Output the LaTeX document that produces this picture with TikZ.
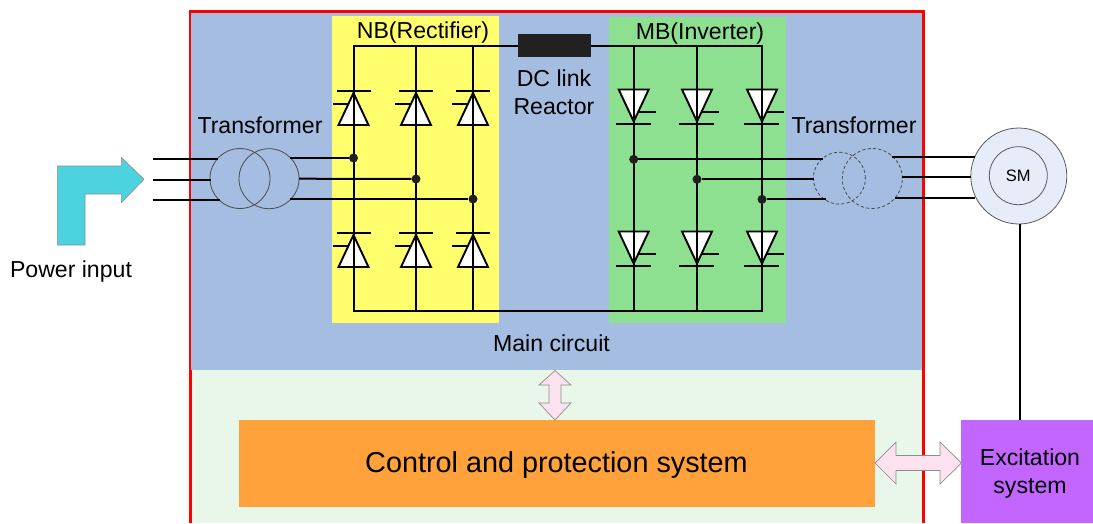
\documentclass[tikz,border=0pt]{standalone}
\usepackage{fontspec}
\setmainfont{Liberation Sans}
\definecolor{mainblue}{HTML}{A4BDE0}
\definecolor{ctrlgreen}{HTML}{E9F7EA}
\definecolor{nbyellow}{HTML}{FFFF6E}
\definecolor{mbgreen}{HTML}{8CE090}
\definecolor{ctrlorange}{HTML}{FFA23C}
\definecolor{excpurple}{HTML}{C366FF}
\definecolor{arrowpink}{HTML}{FCE1EE}
\definecolor{inputcyan}{HTML}{4DD2DF}
\definecolor{smfill}{HTML}{E6EDF8}
\definecolor{framered}{HTML}{FF0000}
\newcommand{\txtsize}{\fontsize{23.1}{27}\selectfont}
\tikzset{
  wire/.style={draw=black,line width=2pt},
  lbl/.style={inner sep=0pt,font=\txtsize,text=black,anchor=base},
  dotnode/.style={circle,fill=black!88,draw=none,minimum size=9pt,inner sep=0pt},
  coil/.style={circle,draw=black!70,line width=0.8pt,inner sep=0pt},
  dashcoil/.style={coil,dashed,dash pattern=on 3.2pt off 2.2pt},
  blockarrow/.style={draw=black!45,line width=0.7pt,fill=arrowpink},
  thyup/.pic={
    \draw[line width=1.9pt,fill=white,line join=miter] (-15,32)--(0,0)--(15,32)--cycle;
    \draw[line width=1.9pt] (-17,-2)--(17,-2);
    \draw[line width=1.9pt] (-21,11)--(-5,11);
  },
  thydown/.pic={
    \draw[line width=1.9pt,fill=white,line join=miter] (-15,-32)--(0,0)--(15,-32)--cycle;
    \draw[line width=1.9pt] (-18,2.5)--(17,2.5);
    \draw[line width=2.2pt] (5,-9.5)--(22,-9.5);
  }
}
\begin{document}
\begin{tikzpicture}[x=1pt,y=-1pt]
\useasboundingbox (0,0) rectangle (1093,523);
% frame and regions
\draw[framered,line width=3pt] (190,523)--(190,11)--(923,11)--(923,523);
\node[fill=mainblue,minimum width=731pt,minimum height=357.5pt,inner sep=0pt,anchor=north west] (mainreg) at (190.5,12.5) {};
\node[fill=ctrlgreen,minimum width=730pt,minimum height=153pt,inner sep=0pt,anchor=north west] (ctrlreg) at (191.5,370) {};
\node[fill=nbyellow,minimum width=167pt,minimum height=307pt,inner sep=0pt,anchor=north west] (nb) at (332,16) {};
\node[fill=mbgreen,minimum width=177pt,minimum height=306pt,inner sep=0pt,anchor=north west] (mb) at (609,17) {};
\node[fill=ctrlorange,minimum width=636pt,minimum height=87pt,inner sep=0pt,anchor=north west] (ctrl) at (239,420) {};
\node[font=\fontsize{28.8}{34}\selectfont,inner sep=0pt,anchor=base] (ctrltxt) at (556.5,472) {Control and protection system};
\node[fill=excpurple,minimum width=132pt,minimum height=103pt,inner sep=0pt,anchor=north west] (exc) at (961,420) {};
\node[lbl] (exc1) at (1030,465) {Excitation};
\node[lbl] (exc2) at (1030,493) {system};
% power input
\draw[draw=black!45,line width=0.6pt,fill=inputcyan] (57.3,245)--(57.3,166)--(121.3,166)--(121.3,157.3)--(144,179.3)--(121.3,202.7)--(121.3,194)--(85,194)--(85,245)--cycle;
\node[lbl] (pwr) at (71,277) {Power input};
% labels
\node[lbl] (tf1) at (260,133) {Transformer};
\node[lbl] (tf2) at (854,133) {Transformer};
\node[lbl] (nbl) at (423,38) {NB(Rectifier)};
\node[lbl] (mbl) at (700,39) {MB(Inverter)};
\node[lbl] (dc1) at (554,86) {DC link};
\node[lbl] (dc2) at (554,114) {Reactor};
\node[lbl] (mc) at (551.5,351) {Main circuit};
% rails coordinates
\coordinate (t1) at (353.5,45.5); \coordinate (t2) at (416,45.5); \coordinate (t3) at (473,45.5);
\coordinate (t4) at (633.7,45.5); \coordinate (t5) at (697,45.5); \coordinate (t6) at (762,45.5);
\coordinate (b1) at (353.5,311); \coordinate (b2) at (416,311); \coordinate (b3) at (473,311);
\coordinate (b4) at (633.7,311); \coordinate (b5) at (697,311); \coordinate (b6) at (762,311);
% thyristors
\foreach \xx in {353.5,416,473}{
  \pic at (\xx,93) {thyup};
  \pic at (\xx,235) {thyup};
}
\foreach \xx in {633.7,697,762}{
  \pic at (\xx,121.5) {thydown};
  \pic at (\xx,263.5) {thydown};
}
% reactor
\node[fill=black!87,minimum width=73pt,minimum height=23pt,inner sep=0pt] (lk) at (554.5,45.5) {};
% DC rails
\draw[wire,line join=miter] (lk.west)--(t1)--(b1)--(b6)--(t6)--(lk.east);
\draw[wire] (t2)--(b2);
\draw[wire] (t3)--(b3);
\draw[wire] (t4)--(b4);
\draw[wire] (t5)--(b5);
% transformers
\node[coil,minimum size=60pt] (tl1) at (240,178.5) {};
\node[coil,minimum size=60pt] (tl2) at (269,178.7) {};
\node[dashcoil,minimum size=52pt] (tr1) at (839.4,178.2) {};
\node[dashcoil,minimum size=60pt] (tr2) at (872.3,178.5) {};
% SM
\node[circle,draw=black!65,line width=0.8pt,fill=smfill,minimum size=96pt,inner sep=0pt] (smo) at (1018.8,176) {};
\node[circle,draw=black!65,line width=0.8pt,fill=smfill,minimum size=58pt,inner sep=0pt,font=\fontsize{16.5}{20}\selectfont] (sm) at (1018.3,175.7) {SM};
% junction dots
\node[dotnode] (d1) at (353.5,158) {};
\node[dotnode] (d2) at (416,179) {};
\node[dotnode] (d3) at (473,199) {};
\node[dotnode] (d4) at (633.7,159.3) {};
\node[dotnode] (d5) at (697,179.3) {};
\node[dotnode] (d6) at (762,199.3) {};
% three-phase wires
\coordinate (i1) at (152.7,159.3); \coordinate (i2) at (152.7,180); \coordinate (i3) at (152.7,200);
\coordinate (a1) at (217.5,159.3); \coordinate (a2) at (210.5,180); \coordinate (a3) at (220,200);
\coordinate (c1) at (289.5,158); \coordinate (c2) at (299,178.7); \coordinate (c3) at (290,199);
\coordinate (e1) at (823,159.3); \coordinate (e2) at (813.5,179.3); \coordinate (e3) at (826,199.3);
\coordinate (f1) at (891.7,157); \coordinate (f2) at (902,176.7); \coordinate (f3) at (895,197.7);
\coordinate (g1) at (975,157); \coordinate (g2) at (970.5,176.7); \coordinate (g3) at (975,197.7);
\draw[wire] (i1)--(a1); \draw[wire] (i2)--(a2); \draw[wire] (i3)--(a3);
\draw[wire] (c1)--(d1); \draw[wire] (c2)--(d2); \draw[wire] (c3)--(d3);
\draw[wire] (d4)--(e1); \draw[wire] (d5)--(e2); \draw[wire] (d6)--(e3);
\draw[wire] (f1)--(g1); \draw[wire] (f2)--(g2); \draw[wire] (f3)--(g3);
% SM to excitation
\draw[wire] (smo.south -| 1019.7,0)--(exc.north -| 1019.7,0);
% block arrows
\draw[blockarrow] (555,370.5)--(571,385)--(561,385)--(561,403)--(571,403)--(555,420)--(539,403)--(549,403)--(549,385)--(539,385)--cycle;
\draw[blockarrow] (875,463)--(896,442)--(896,455.5)--(940,455.5)--(940,442)--(961.5,463)--(940,484)--(940,470.5)--(896,470.5)--(896,484)--cycle;
\end{tikzpicture}
\end{document}
